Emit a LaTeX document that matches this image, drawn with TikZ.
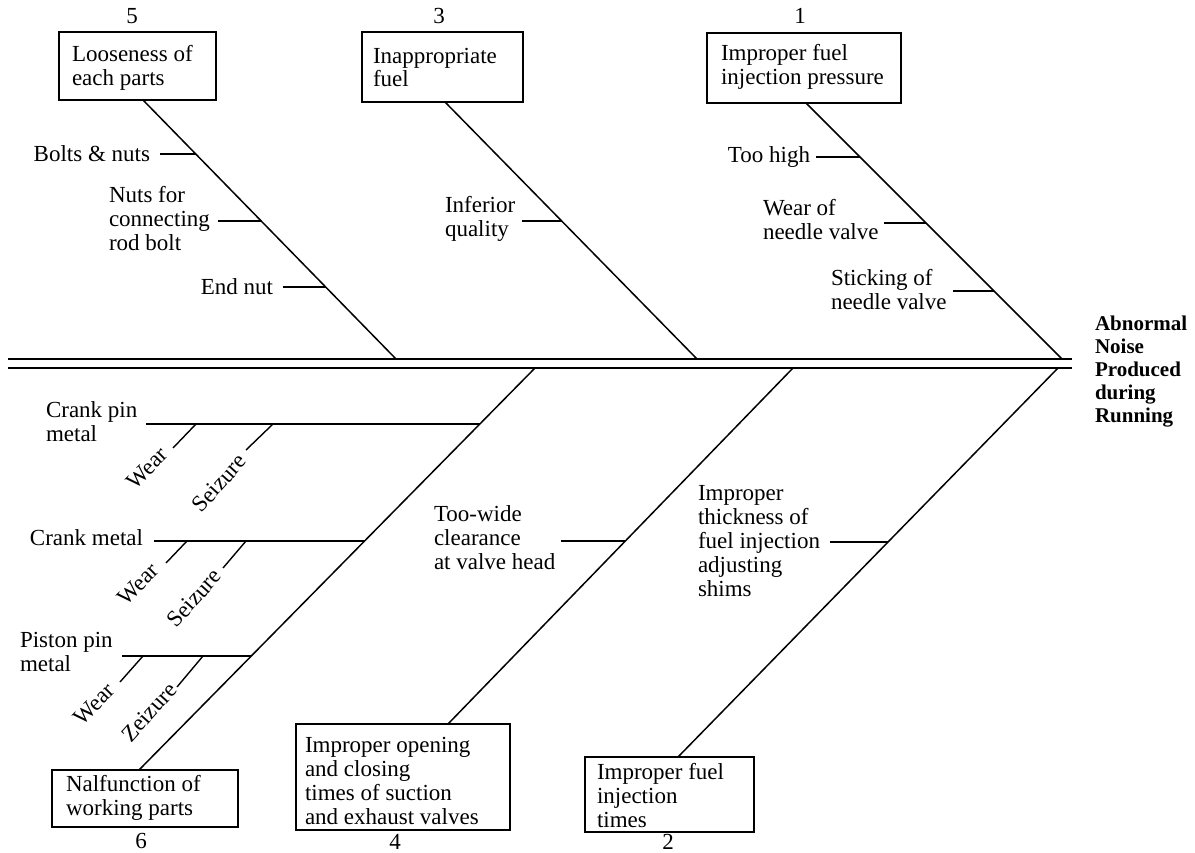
\documentclass[tikz,border=0pt]{standalone}
\usepackage{fontspec}
\setmainfont{Liberation Serif}
\usetikzlibrary{calc}
\begin{document}
\begin{tikzpicture}[x=1pt,y=-1pt,
  every node/.style={inner sep=0pt, outer sep=0pt, font=\fontsize{23}{24}\selectfont},
  lbl/.style={align=left},
  headtxt/.style={align=left, font=\fontsize{21}{23}\selectfont\bfseries},
  box/.style={draw, line width=1.5pt},
  bone/.style={line width=1.5pt},
  twig/.style={line width=1.4pt},
  spine/.style={line width=1.5pt},
  rotw/.style={rotate=45},
  rots/.style={rotate=48}]
\useasboundingbox (0,0) rectangle (1195,853);

% ---- spine ----
\coordinate (uL) at (8,359); \coordinate (uR) at (1072,359);
\coordinate (lL) at (8,368); \coordinate (lR) at (1072,368);
\draw[spine] (uL) -- (uR);
\draw[spine] (lL) -- (lR);
\node[headtxt, anchor=west] (head) at (1095,371.5) {Abnormal\\Noise\\Produced\\during\\Running};

% ---- top boxes ----
\node[box, minimum width=157pt, minimum height=68pt] (b5) at (137.5,66) {};
\node[lbl, anchor=west] (b5t) at (72,67.5) {Looseness of\\each parts};
\node (n5) at (132,16) {5};

\node[box, minimum width=161pt, minimum height=70pt] (b3) at (442.5,67) {};
\node[lbl, anchor=west] (b3t) at (373,67.5) {Inappropriate\\fuel};
\node (n3) at (439,16) {3};

\node[box, minimum width=194pt, minimum height=70pt] (b1) at (804,68) {};
\node[lbl, anchor=west] (b1t) at (721,67) {Improper fuel\\injection pressure};
\node (n1) at (800,16) {1};

% ---- bottom boxes ----
\node[box, minimum width=186pt, minimum height=57pt] (b6) at (145,798.5) {};
\node[lbl, anchor=west] (b6t) at (66,797.5) {Nalfunction of\\working parts};
\node (n6) at (141,841) {6};

\node[box, minimum width=214pt, minimum height=106pt] (b4) at (403,777) {};
\node[lbl, anchor=west] (b4t) at (305,780.5) {Improper opening\\and closing\\times of suction\\and exhaust valves};
\node (n4) at (395,842) {4};

\node[box, minimum width=169pt, minimum height=75pt] (b2) at (669.5,794.5) {};
\node[lbl, anchor=west] (b2t) at (597,796) {Improper fuel\\injection\\times};
\node (n2) at (668,842) {2};

% ---- bones ----
\coordinate (t5) at ([xshift=5.5pt]b5.south);  \coordinate (s5) at (396,359);
\coordinate (t3) at ([xshift=2.5pt]b3.south);  \coordinate (s3) at (697,359);
\coordinate (t1) at ([xshift=2pt]b1.south);    \coordinate (s1) at (1062,359);
\coordinate (t6) at ([xshift=-6pt]b6.north);   \coordinate (s6) at (535,368);
\coordinate (t4) at ([xshift=45pt]b4.north);   \coordinate (s4) at (793,368);
\coordinate (t2) at ([xshift=8.5pt]b2.north);  \coordinate (s2) at (1058,368);
\draw[bone] (t5) -- (s5);
\draw[bone] (t3) -- (s3);
\draw[bone] (t1) -- (s1);
\draw[bone] (s6) -- (t6);
\draw[bone] (s4) -- (t4);
\draw[bone] (s2) -- (t2);

% ---- bone 5 twigs ----
\coordinate (p5a) at ($(t5)!0.2085!(s5)$);
\coordinate (p5b) at ($(t5)!0.4672!(s5)$);
\coordinate (p5c) at ($(t5)!0.7220!(s5)$);
\node[anchor=east] (l5a) at (150,154) {Bolts \& nuts};
\node[lbl, anchor=west] (l5b) at (109,218.5) {Nuts for\\connecting\\rod bolt};
\node[anchor=east] (l5c) at (273,287) {End nut};
\draw[twig, shorten >=10pt] (p5a) -- (p5a -| l5a.east);
\draw[twig, shorten >=8pt] (p5b) -- (p5b -| l5b.east);
\draw[twig, shorten >=10pt] (p5c) -- (p5c -| l5c.east);

% ---- bone 3 twig ----
\coordinate (p3a) at ($(t3)!0.4630!(s3)$);
\node[lbl, anchor=west] (l3a) at (445,218.5) {Inferior\\quality};
\draw[twig, shorten >=7pt] (p3a) -- (p3a -| l3a.east);

% ---- bone 1 twigs ----
\coordinate (p1a) at ($(t1)!0.2109!(s1)$);
\coordinate (p1b) at ($(t1)!0.4688!(s1)$);
\coordinate (p1c) at ($(t1)!0.7344!(s1)$);
\node[anchor=east] (l1a) at (810,157) {Too high};
\node[lbl, anchor=west] (l1b) at (763,220) {Wear of\\needle valve};
\node[lbl, anchor=west] (l1c) at (831,290) {Sticking of\\needle valve};
\draw[twig, shorten >=6pt] (p1a) -- (p1a -| l1a.east);
\draw[twig, shorten >=5pt] (p1b) -- (p1b -| l1b.east);
\draw[twig, shorten >=6pt] (p1c) -- (p1c -| l1c.east);

% ---- bone 6 twigs ----
\coordinate (p6a) at ($(s6)!0.1393!(t6)$);
\coordinate (p6b) at ($(s6)!0.4303!(t6)$);
\coordinate (p6c) at ($(s6)!0.7164!(t6)$);
\node[lbl, anchor=west] (l6a) at (46,421.5) {Crank pin\\metal};
\node[anchor=east] (l6b) at (143,538) {Crank metal};
\node[lbl, anchor=west] (l6c) at (20,651.5) {Piston pin\\metal};
\draw[twig, shorten >=9pt] (p6a) -- (p6a -| l6a.east);
\draw[twig, shorten >=11pt] (p6b) -- (p6b -| l6b.east);
\draw[twig, shorten >=9pt] (p6c) -- (p6c -| l6c.east);

% sub twigs
\coordinate (w1a) at (196,424); \coordinate (w1b) at (173,448);
\coordinate (z1a) at (273,424); \coordinate (z1b) at (246,450);
\coordinate (w2a) at (187,541); \coordinate (w2b) at (166,563);
\coordinate (z2a) at (246,541); \coordinate (z2b) at (223,568);
\coordinate (w3a) at (143,656); \coordinate (w3b) at (120,682);
\coordinate (z3a) at (203,656); \coordinate (z3b) at (177,687);
\draw[twig] (w1a) -- (w1b);
\draw[twig] (z1a) -- (z1b);
\draw[twig] (w2a) -- (w2b);
\draw[twig] (z2a) -- (z2b);
\draw[twig] (w3a) -- (w3b);
\draw[twig] (z3a) -- (z3b);
\node[rotw] (w1t) at (147,468) {Wear};
\node[rots] (z1t) at (219,483) {Seizure};
\node[rotw] (w2t) at (138,584) {Wear};
\node[rots] (z2t) at (194,598) {Seizure};
\node[rotw] (w3t) at (94,704) {Wear};
\node[rots] (z3t) at (149,712) {Zeizure};

% ---- bone 4 twig ----
\coordinate (p4a) at ($(s4)!0.4860!(t4)$);
\node[lbl, anchor=west] (l4a) at (434,538) {Too-wide\\clearance\\at valve head};
\draw[twig, shorten >=6pt] (p4a) -- (p4a -| l4a.east);

% ---- bone 2 twig ----
\coordinate (p2a) at ($(s2)!0.4473!(t2)$);
\node[lbl, anchor=west] (l2a) at (698,541) {Improper\\thickness of\\fuel injection\\adjusting\\shims};
\draw[twig, shorten >=10pt] (p2a) -- (p2a -| l2a.east);
\end{tikzpicture}
\end{document}
